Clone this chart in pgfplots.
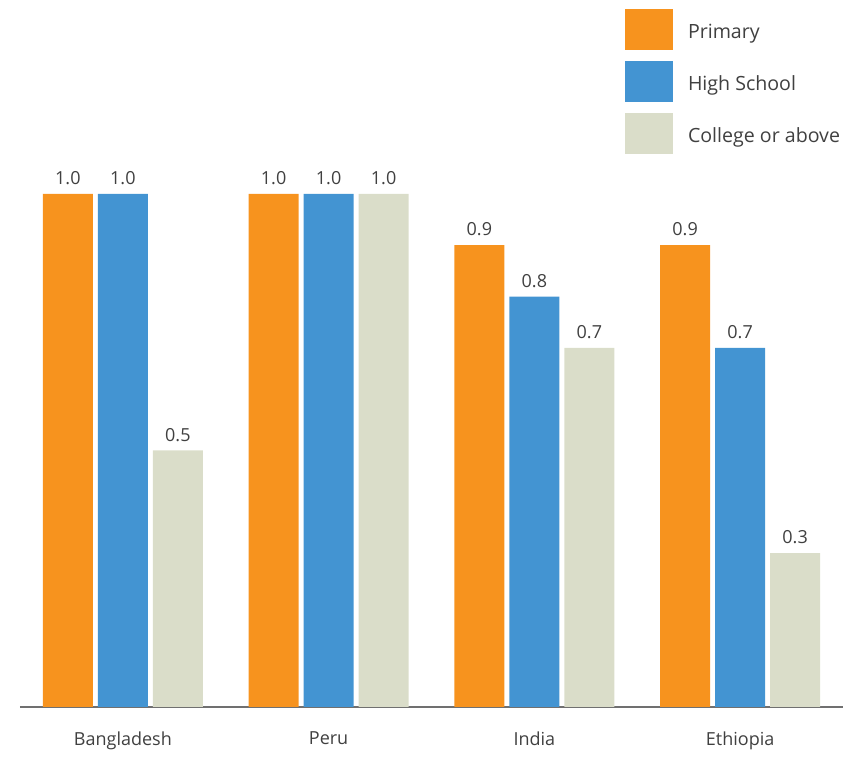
\documentclass[border=0pt]{standalone}
\usepackage{pgfplots}
\pgfplotsset{compat=1.18}
\usepackage{fontspec}
\setmainfont{Open Sans}
\definecolor{cprim}{HTML}{F7931E}
\definecolor{chigh}{HTML}{4394D2}
\definecolor{ccol}{HTML}{DADDC9}
\definecolor{ctext}{HTML}{404040}
\definecolor{caxis}{HTML}{707070}
\begin{document}
\begin{tikzpicture}
\begin{axis}[
  scale only axis,
  width=411.5pt, height=353.5pt,
  xmin=-0.5, xmax=3.5, ymin=0, ymax=1.378,
  axis x line=bottom, axis y line=none,
  axis line style={caxis, line width=0.8pt, -},
  xtick={0,1,2,3},
  xticklabels={Bangladesh,Peru,India,Ethiopia},
  major tick length=0pt,
  xticklabel style={font=\fontsize{9}{11}\selectfont, text=ctext, yshift=-9pt},
  ybar, bar width=25pt,
  nodes near coords,
  nodes near coords style={font=\fontsize{9}{11}\selectfont, text=ctext, yshift=1pt, /pgf/number format/.cd, fixed, fixed zerofill, precision=1, assume math mode=true},
  legend style={at={(rel axis cs:0.7351,0.9873)}, anchor=north west, draw=none, fill=none,
    inner sep=0pt, outer sep=0pt, font=\fontsize{9.8}{11}\selectfont, text=ctext,
    row sep=5.5pt, /tikz/every odd column/.append style={column sep=5.5pt},
    /tikz/every even column/.append style={yshift=-1.5pt}},
  legend cell align=left,
  legend image code/.code={\fill[#1] (0pt,-10.25pt) rectangle (24pt,10.25pt);},
  clip=false,
]
\addplot[fill=cprim, draw=none, bar shift=-27.5pt] coordinates {(0,1.0) (1,1.0) (2,0.9) (3,0.9)};
\addplot[fill=chigh, draw=none, bar shift=0pt] coordinates {(0,1.0) (1,1.0) (2,0.8) (3,0.7)};
\addplot[fill=ccol, draw=none, bar shift=27.5pt] coordinates {(0,0.5) (1,1.0) (2,0.7) (3,0.3)};
\legend{Primary,High School,College or above}
\end{axis}
\useasboundingbox (-10pt,-21pt) rectangle (420.5pt,353.5pt);
\end{tikzpicture}
\end{document}
